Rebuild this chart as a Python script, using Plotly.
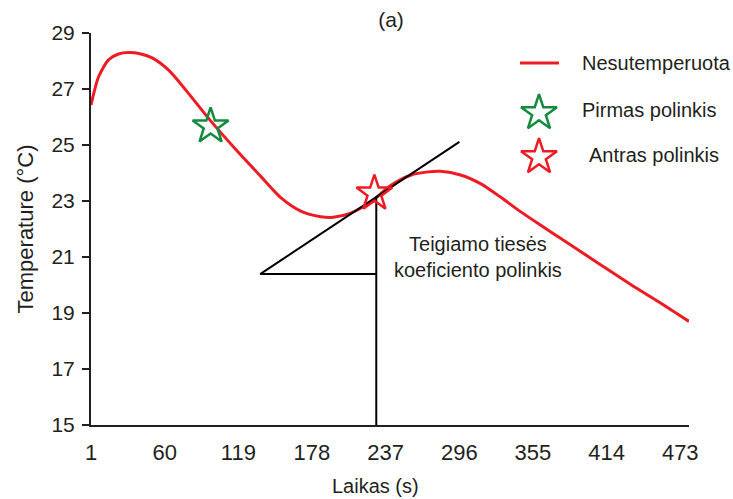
import plotly.graph_objects as go

# Temperature curve (untempered sample)
time_s = [1, 7, 15, 23, 31, 41, 50, 63, 77, 95, 117, 137, 153, 169, 185, 195,
          209, 225, 241, 257, 271, 281, 297, 313, 329, 345, 361, 378, 407, 433,
          460, 480]
temp_c = [26.43, 27.43, 28.04, 28.25, 28.30, 28.25, 28.11, 27.68, 26.96, 25.96,
          24.84, 23.88, 23.12, 22.64, 22.44, 22.42, 22.57, 22.96, 23.55, 23.92,
          24.04, 24.06, 23.93, 23.62, 23.14, 22.62, 22.14, 21.64, 20.79, 20.03,
          19.28, 18.70]

# Marked slope points
first_slope = (96.8, 25.67)
second_slope = (228.0, 23.27)

# Tangent line at the second slope point and its slope triangle
tangent_x = [136.5, 296.1]
tangent_y = [20.39, 25.11]
touch_x = 229.5
touch_y = 23.14

x_ticks = [1, 60, 119, 178, 237, 296, 355, 414, 473]
y_ticks = [15, 17, 19, 21, 23, 25, 27, 29]

legend_names = ["Nesutemperuota", "Pirmas polinkis", "Antras polinkis"]

RED = "#ed1c24"
GREEN = "#138a3e"
INK = "#231f20"
FONT = "Liberation Sans, Arial, sans-serif"

fig = go.Figure()

fig.add_trace(go.Scatter(x=time_s, y=temp_c, mode="lines",
                         line=dict(color=RED, width=3, shape="spline", smoothing=0.7),
                         showlegend=False, hoverinfo="skip"))

# tangent, horizontal leg and vertical leg
fig.add_trace(go.Scatter(x=tangent_x, y=tangent_y, mode="lines",
                         line=dict(color="black", width=2), showlegend=False))
fig.add_trace(go.Scatter(x=[tangent_x[0], touch_x], y=[tangent_y[0], tangent_y[0]],
                         mode="lines", line=dict(color="black", width=2), showlegend=False))
fig.add_trace(go.Scatter(x=[touch_x, touch_x], y=[y_ticks[0], touch_y],
                         mode="lines", line=dict(color="black", width=2), showlegend=False))

star_style = dict(symbol="star-open", size=27)
fig.add_trace(go.Scatter(x=[first_slope[0]], y=[first_slope[1]], mode="markers",
                         marker=dict(**star_style, color=GREEN, line=dict(width=2.5, color=GREEN)),
                         showlegend=False, cliponaxis=False))
fig.add_trace(go.Scatter(x=[second_slope[0]], y=[second_slope[1]], mode="markers",
                         marker=dict(**star_style, color=RED, line=dict(width=2.5, color=RED)),
                         showlegend=False, cliponaxis=False))

# Legend keys drawn on a hidden overlay axis measured in pixels
fig.add_trace(go.Scatter(x=[520, 559], y=[63, 63], xaxis="x2", yaxis="y2", mode="lines",
                         line=dict(color=RED, width=3), showlegend=False, cliponaxis=False))
fig.add_trace(go.Scatter(x=[539], y=[113], xaxis="x2", yaxis="y2", mode="markers",
                         marker=dict(**star_style, color=GREEN, line=dict(width=2.5, color=GREEN)),
                         showlegend=False, cliponaxis=False))
fig.add_trace(go.Scatter(x=[539], y=[157], xaxis="x2", yaxis="y2", mode="markers",
                         marker=dict(**star_style, color=RED, line=dict(width=2.5, color=RED)),
                         showlegend=False, cliponaxis=False))

annotations = [
    dict(x=580, y=63, xref="x2", yref="y2", text=legend_names[0], showarrow=False,
         xanchor="left", yanchor="middle", font=dict(size=20)),
    dict(x=580, y=110, xref="x2", yref="y2", text=legend_names[1], showarrow=False,
         xanchor="left", yanchor="middle", font=dict(size=20)),
    dict(x=587, y=155, xref="x2", yref="y2", text=legend_names[2], showarrow=False,
         xanchor="left", yanchor="middle", font=dict(size=20)),
    dict(x=478, y=257, xref="x2", yref="y2", text="Teigiamo tiesės<br>koeficiento polinkis",
         showarrow=False, xanchor="center", yanchor="middle", align="center",
         font=dict(size=20)),
    dict(x=(375 - 91) / 598, y=(425 - 486) / 392, xref="paper", yref="paper",
         text="Laikas (s)", showarrow=False, xanchor="center", yanchor="middle",
         font=dict(size=20)),
]

fig.update_layout(
    width=733, height=499,
    margin=dict(l=91, r=44, t=33, b=74),
    paper_bgcolor="white", plot_bgcolor="white",
    font=dict(family=FONT, size=20, color=INK),
    title=dict(text="(a)", x=391 / 733, y=1 - 20 / 499, xanchor="center", yanchor="middle",
               font=dict(family=FONT, size=21, color=INK)),
    xaxis=dict(range=[1, 480], tickvals=x_ticks, ticktext=[str(v) for v in x_ticks],
               showgrid=False, zeroline=False, showline=True, linecolor=INK, linewidth=2,
               ticks="", ticklabelstandoff=7, tickfont=dict(size=22)),
    yaxis=dict(range=[15, 29], tickvals=y_ticks, showgrid=False, zeroline=False,
               showline=True, linecolor=INK, linewidth=2, ticks="outside", ticklen=7,
               tickwidth=2, tickcolor=INK, tickfont=dict(size=21), ticklabelstandoff=3,
               title=dict(text="Temperature (°C)", standoff=12, font=dict(size=22))),
    xaxis2=dict(overlaying="x", range=[91, 689], visible=False),
    yaxis2=dict(overlaying="y", range=[425, 33], visible=False),
    annotations=annotations,
)

fig.write_html("out.html")
